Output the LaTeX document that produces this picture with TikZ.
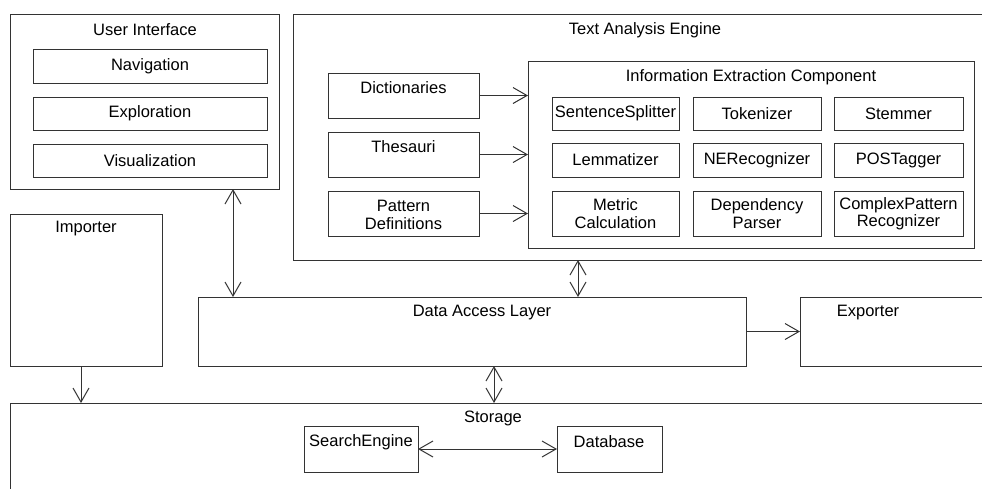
\documentclass[tikz,border=0pt]{standalone}
\usepackage{fontspec}
\setmainfont{Liberation Sans}
\usepackage{xcolor}
\usetikzlibrary{arrows.meta}
\definecolor{linecolor}{HTML}{333333}

\tikzset{
    box/.style = {draw = linecolor, line width = 1pt, rectangle, inner sep = 0pt, outer sep = 0pt, anchor = north west},
    lbl/.style = {inner sep = 0pt, align = center},
    arr/.style = {-{Straight Barb[length = 14pt, width = 16pt]}, line width = 1pt, color = linecolor},
    biarr/.style = {{Straight Barb[length = 14pt, width = 16pt]}-{Straight Barb[length = 14pt, width = 16pt]}, line width = 1pt, color = linecolor}
}

\begin{document}
\begin{tikzpicture}[x = 1pt, y = -1pt, font = \fontsize{16.5}{17.5}\selectfont]
        \useasboundingbox (0, 0) rectangle (982, 488);
        \clip (0, 0) rectangle (982, 488);

        % User interface
        \node [box, minimum width = 269pt, minimum height = 175pt] (ui) at (10, 14) {};
        \node [lbl] (uilbl) at (145, 30) {User Interface};
        \node [box, minimum width = 234pt, minimum height = 34pt] (nav) at (33, 49) {Navigation};
        \node [box, minimum width = 234pt, minimum height = 33pt] (expl) at (33, 97) {Exploration};
        \node [box, minimum width = 234pt, minimum height = 33pt] (vis) at (33, 144) {Visualization};

        % Text analysis engine
        \node [box, minimum width = 702pt, minimum height = 246pt] (tae) at (293, 14) {};
        \node [lbl] (taelbl) at (645, 30) {Text Analysis Engine};
        \node [box, minimum width = 151pt, minimum height = 45pt] (dict) at (328, 73) {};
        \node [lbl] (dictlbl) at (403.5, 88) {Dictionaries};
        \node [box, minimum width = 151pt, minimum height = 45pt] (thes) at (328, 132) {};
        \node [lbl] (theslbl) at (403.5, 147) {Thesauri};
        \node [box, minimum width = 151pt, minimum height = 45pt] (patt) at (328, 191) {};
        \node [lbl] (pattlbl) at (403.5, 215) {Pattern\\Definitions};

        % Information extraction component
        \node [box, minimum width = 446pt, minimum height = 187pt] (iec) at (528, 61) {};
        \node [lbl] (ieclbl) at (751, 77) {Information Extraction Component};
        \node [box, align = center, minimum width = 127pt, minimum height = 33pt] (split) at (552, 97) {SentenceSplitter};
        \node [box, align = center, minimum width = 128pt, minimum height = 33pt] (tok) at (693, 97) {Tokenizer};
        \node [box, align = center, minimum width = 129pt, minimum height = 33pt] (stem) at (834, 97) {Stemmer};
        \node [box, align = center, minimum width = 127pt, minimum height = 34pt] (lem) at (552, 143) {Lemmatizer};
        \node [box, align = center, minimum width = 128pt, minimum height = 34pt] (ner) at (693, 143) {NERecognizer};
        \node [box, align = center, minimum width = 129pt, minimum height = 34pt] (pos) at (834, 143) {POSTagger};
        \node [box, align = center, minimum width = 127pt, minimum height = 45pt] (metric) at (552, 191) {Metric\\Calculation};
        \node [box, align = center, minimum width = 128pt, minimum height = 45pt] (dep) at (693, 191) {Dependency\\Parser};
        \node [box, align = center, minimum width = 129pt, minimum height = 45pt] (cpr) at (834, 191) {ComplexPattern\\Recognizer};

        % Importer, data access, exporter
        \node [box, minimum width = 152pt, minimum height = 152pt] (imp) at (10, 214) {};
        \node [lbl] (implbl) at (86, 229) {Importer};
        \node [box, minimum width = 548pt, minimum height = 69pt] (dal) at (198, 297) {};
        \node [lbl] (dallbl) at (482, 313) {Data Access Layer};
        \node [box, minimum width = 195pt, minimum height = 69pt] (exp) at (800, 297) {};
        \node [lbl] (explbl) at (868, 313) {Exporter};

        % Storage
        \node [box, minimum width = 985pt, minimum height = 100pt] (stor) at (10, 403) {};
        \node [lbl] (storlbl) at (493, 418) {Storage};
        \node [box, minimum width = 114pt, minimum height = 46pt] (se) at (304, 426) {};
        \node [lbl] (selbl) at (361, 442) {SearchEngine};
        \node [box, minimum width = 105pt, minimum height = 46pt] (db) at (557, 426) {};
        \node [lbl] (dblbl) at (609, 442) {Database};

        % Draw the links
        \coordinate (uix) at (233, 0);
        \coordinate (taex) at (578, 0);
        \coordinate (impx) at (81, 0);
        \coordinate (storx) at (494, 0);
        \draw [arr] (dict.east) -- (dict.east -| iec.west);
        \draw [arr] (thes.east) -- (thes.east -| iec.west);
        \draw [arr] (patt.east) -- (patt.east -| iec.west);
        \draw [biarr] (ui.south -| uix) -- (dal.north -| uix);
        \draw [biarr] (tae.south -| taex) -- (dal.north -| taex);
        \draw [arr] (imp.south -| impx) -- (stor.north -| impx);
        \draw [biarr] (dal.south -| storx) -- (stor.north -| storx);
        \draw [arr] (dal.east) -- (exp.west);
        \draw [biarr] (se.east) -- (db.west);

    \end{tikzpicture}
\end{document}
